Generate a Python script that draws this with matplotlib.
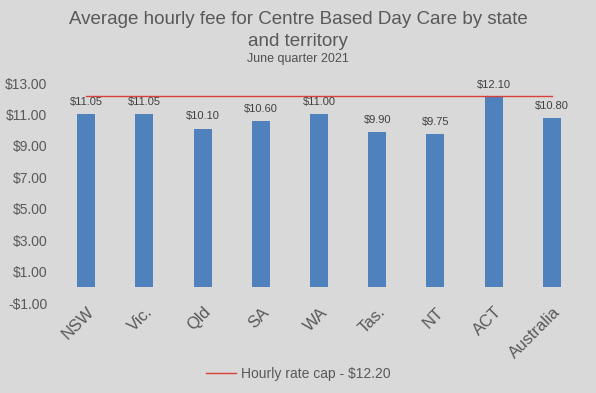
import matplotlib.pyplot as plt
import matplotlib.transforms as mtransforms
import numpy as np

plt.rcParams['font.family'] = ['Liberation Sans', 'DejaVu Sans']

# data
states = ["NSW", "Vic.", "Qld", "SA", "WA", "Tas.", "NT", "ACT", "Australia"]
fees = [11.05, 11.05, 10.10, 10.60, 11.00, 9.90, 9.75, 12.10, 10.80]
rate_cap = 12.20
y_ticks = [-1, 1, 3, 5, 7, 9, 11, 13]

bg = "#D9D9D9"
txt = "#595959"

fig = plt.figure(figsize=(5.96, 3.93), dpi=100, facecolor=bg)
ax = fig.add_axes([57 / 596, 1 - 303 / 393, (581 - 57) / 596, (303 - 83) / 393])
ax.set_facecolor(bg)

x = np.arange(len(states))
ax.bar(x, fees, width=0.31, color="#4F81BD", zorder=2)
ax.plot(x, [rate_cap] * len(states), color="#D9403A", linewidth=1.0,
        label="Hourly rate cap - $12.20", zorder=3)

# value labels above bars
for xi, v in zip(x, fees):
    ax.text(xi, v + 0.45, f"${v:.2f}", ha="center", va="bottom",
            fontsize=8, color="#404040")

ax.set_xlim(-0.5, len(states) - 0.5)
ax.set_ylim(-1, 13)
ax.set_yticks(y_ticks)
ax.set_yticklabels([f"${t:.2f}" if t >= 0 else f"-${-t:.2f}" for t in y_ticks],
                   fontsize=10, color=txt)
ax.set_xticks(x)
ax.set_xticklabels(states, rotation=45, ha="right", va="center",
                   rotation_mode="anchor", fontsize=12, color=txt)
ax.tick_params(length=0, pad=7)
ax.tick_params(axis="x", pad=2)
shift = mtransforms.ScaledTranslation(6 / 100, -4 / 100, fig.dpi_scale_trans)
for lbl in ax.get_xticklabels():
    lbl.set_transform(lbl.get_transform() + shift)
for s in ax.spines.values():
    s.set_visible(False)

fig.text(0.5, 1 - 20 / 393, "Average hourly fee for Centre Based Day Care by state",
         ha="center", va="center", fontsize=13.5, color=txt)
fig.text(0.5, 1 - 41 / 393, "and territory", ha="center", va="center",
         fontsize=13.5, color=txt)
fig.text(0.5, 1 - 59 / 393, "June quarter 2021", ha="center", va="center",
         fontsize=9, color="#505050")

fig.legend(loc="center", bbox_to_anchor=(0.5, 1 - 374 / 393), frameon=False,
           fontsize=10, labelcolor=txt, handlelength=2.2, handletextpad=0.3)

fig.savefig("out.png", dpi=100, facecolor=bg)
